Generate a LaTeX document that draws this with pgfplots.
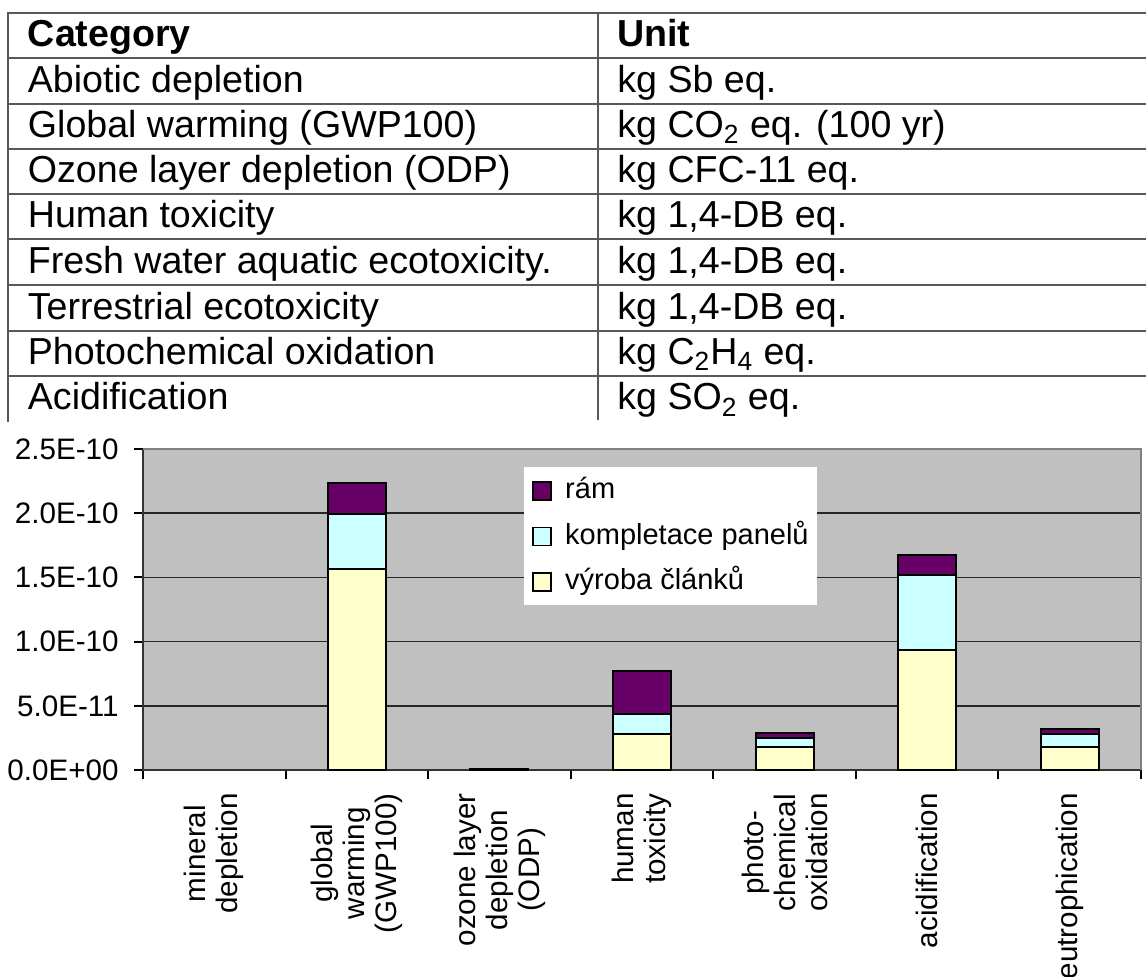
\documentclass[border=0pt]{standalone}
\usepackage{fontspec}
\setmainfont{Liberation Sans}
\usepackage{pgfplots}
\pgfplotsset{compat=1.18}
\definecolor{ram}{HTML}{660066}
\definecolor{komp}{HTML}{CCFFFF}
\definecolor{vyr}{HTML}{FFFFCC}
\definecolor{plotbg}{HTML}{C0C0C0}
\begin{document}
\begin{tikzpicture}[x=0.5pt,y=0.5pt]
\path[use as bounding box] (0,0) rectangle (1146,-976);
% ---- table ----
\begin{scope}[line width=1pt, draw=black!65]
\foreach \yy in {12.7,58.3,103.7,149,194.3,239.3,285,330.7,376} \draw (7,-\yy) -- (1146,-\yy);
\draw (7.5,-12.7) -- (7.5,-422);
\draw (598,-12.7) -- (598,-420);
\end{scope}
\tikzset{tt/.style={anchor=base west, inner sep=0pt, font=\fontsize{18.8}{22}\selectfont}}
\node[tt] at (27.5,-46.6) {\textbf{Category}};
\node[tt] at (617,-46.6) {\textbf{Unit}};
\node[tt] at (27.5,-92) {Abiotic depletion};
\node[tt] at (617,-92) {kg Sb eq.};
\node[tt] at (27.5,-137.3) {Global warming (GWP100)};
\node[tt] at (617,-137.3) {kg CO\textsubscript{2} eq. (100 yr)};
\node[tt] at (27.5,-182.6) {Ozone layer depletion (ODP)};
\node[tt] at (617,-182.6) {kg CFC-11 eq.};
\node[tt] at (27.5,-227.6) {Human toxicity};
\node[tt] at (617,-227.6) {kg 1,4-DB eq.};
\node[tt] at (27.5,-273.3) {Fresh water aquatic ecotoxicity.};
\node[tt] at (617,-273.3) {kg 1,4-DB eq.};
\node[tt] at (27.5,-319) {Terrestrial ecotoxicity};
\node[tt] at (617,-319) {kg 1,4-DB eq.};
\node[tt] at (27.5,-364.3) {Photochemical oxidation};
\node[tt] at (617,-364.3) {kg C\textsubscript{2}H\textsubscript{4} eq.};
\node[tt] at (27.5,-409.7) {Acidification};
\node[tt] at (617,-409.7) {kg SO\textsubscript{2} eq.};
% ---- chart ----
\begin{axis}[
  at={(71.5pt,-385pt)}, anchor=south west,
  scale only axis, width=499pt, height=160.5pt,
  xmin=-0.5, xmax=6.5, ymin=0, ymax=2.5e-10,
  clip=false,
  ybar stacked, bar width=29pt,
  axis background/.style={fill=plotbg},
  axis line style={draw=none},
  xtick={-0.5,0.5,1.5,2.5,3.5,4.5,5.5,6.5},
  xticklabels={},
  extra x ticks={0,1,2,3,4,5,6},
  extra x tick labels={{mineral\\depletion},{global\\warming\\(GWP100)},{ozone layer\\depletion\\(ODP)},{human\\toxicity},{photo-\\chemical\\oxidation},{acidification},{eutrophication}},
  extra x tick style={major tick length=0pt, xticklabel style={rotate=90, anchor=east, align=center, inner sep=0pt}},
  xticklabel shift=11.5pt,
  ytick={0,5e-11,1e-10,1.5e-10,2e-10,2.5e-10},
  yticklabels={0.0E+00,5.0E-11,1.0E-10,1.5E-10,2.0E-10,2.5E-10},
  scaled y ticks=false,
  yticklabel style={anchor=east, inner sep=0pt},
  yticklabel shift=7.5pt,
  tick align=outside, tick pos=left,
  major tick length=4.5pt,
  every tick/.style={black, line width=1pt},
  ticklabel style={font=\fontsize{14.8}{16}\selectfont},
  ymajorgrids, major grid style={black!85, line width=0.8pt},
  legend style={at={(0.381,0.944)}, anchor=north west, draw=none, fill=white,
    font=\fontsize{14.5}{17}\selectfont, inner xsep=4.35pt, inner ysep=4.75pt,
    row sep=8.75pt, column sep=6.65pt,
    nodes={inner sep=0pt, text height=11pt, text depth=3pt, anchor=west}},
  legend cell align=left,
  reverse legend,
  legend image code/.code={\draw[#1, draw=black, line width=0.8pt] (0pt,-4.5pt) rectangle (9pt,4.5pt);},
]
\addplot[fill=vyr, draw=black, line width=1pt] coordinates {(0,0) (1,1.563e-10) (2,0.6e-12) (3,2.8e-11) (4,1.77e-11) (5,9.35e-11) (6,1.77e-11)};
\addlegendentry{výroba článků}
\addplot[fill=komp, draw=black, line width=1pt] coordinates {(0,0) (1,4.3e-11) (2,0.3e-12) (3,1.6e-11) (4,0.7e-11) (5,5.84e-11) (6,1.03e-11)};
\addlegendentry{kompletace panelů}
\addplot[fill=ram, draw=black, line width=1pt] coordinates {(0,0) (1,2.4e-11) (2,0.2e-12) (3,3.33e-11) (4,0.39e-11) (5,1.53e-11) (6,0.42e-11)};
\addlegendentry{rám}
\draw[black!50, line width=1pt] (rel axis cs:0,1) -- (rel axis cs:1,1) -- (rel axis cs:1,0);
\draw[black!80, line width=1pt] (rel axis cs:0,1) -- (rel axis cs:0,0) -- (rel axis cs:1,0);
\end{axis}
\end{tikzpicture}
\end{document}
